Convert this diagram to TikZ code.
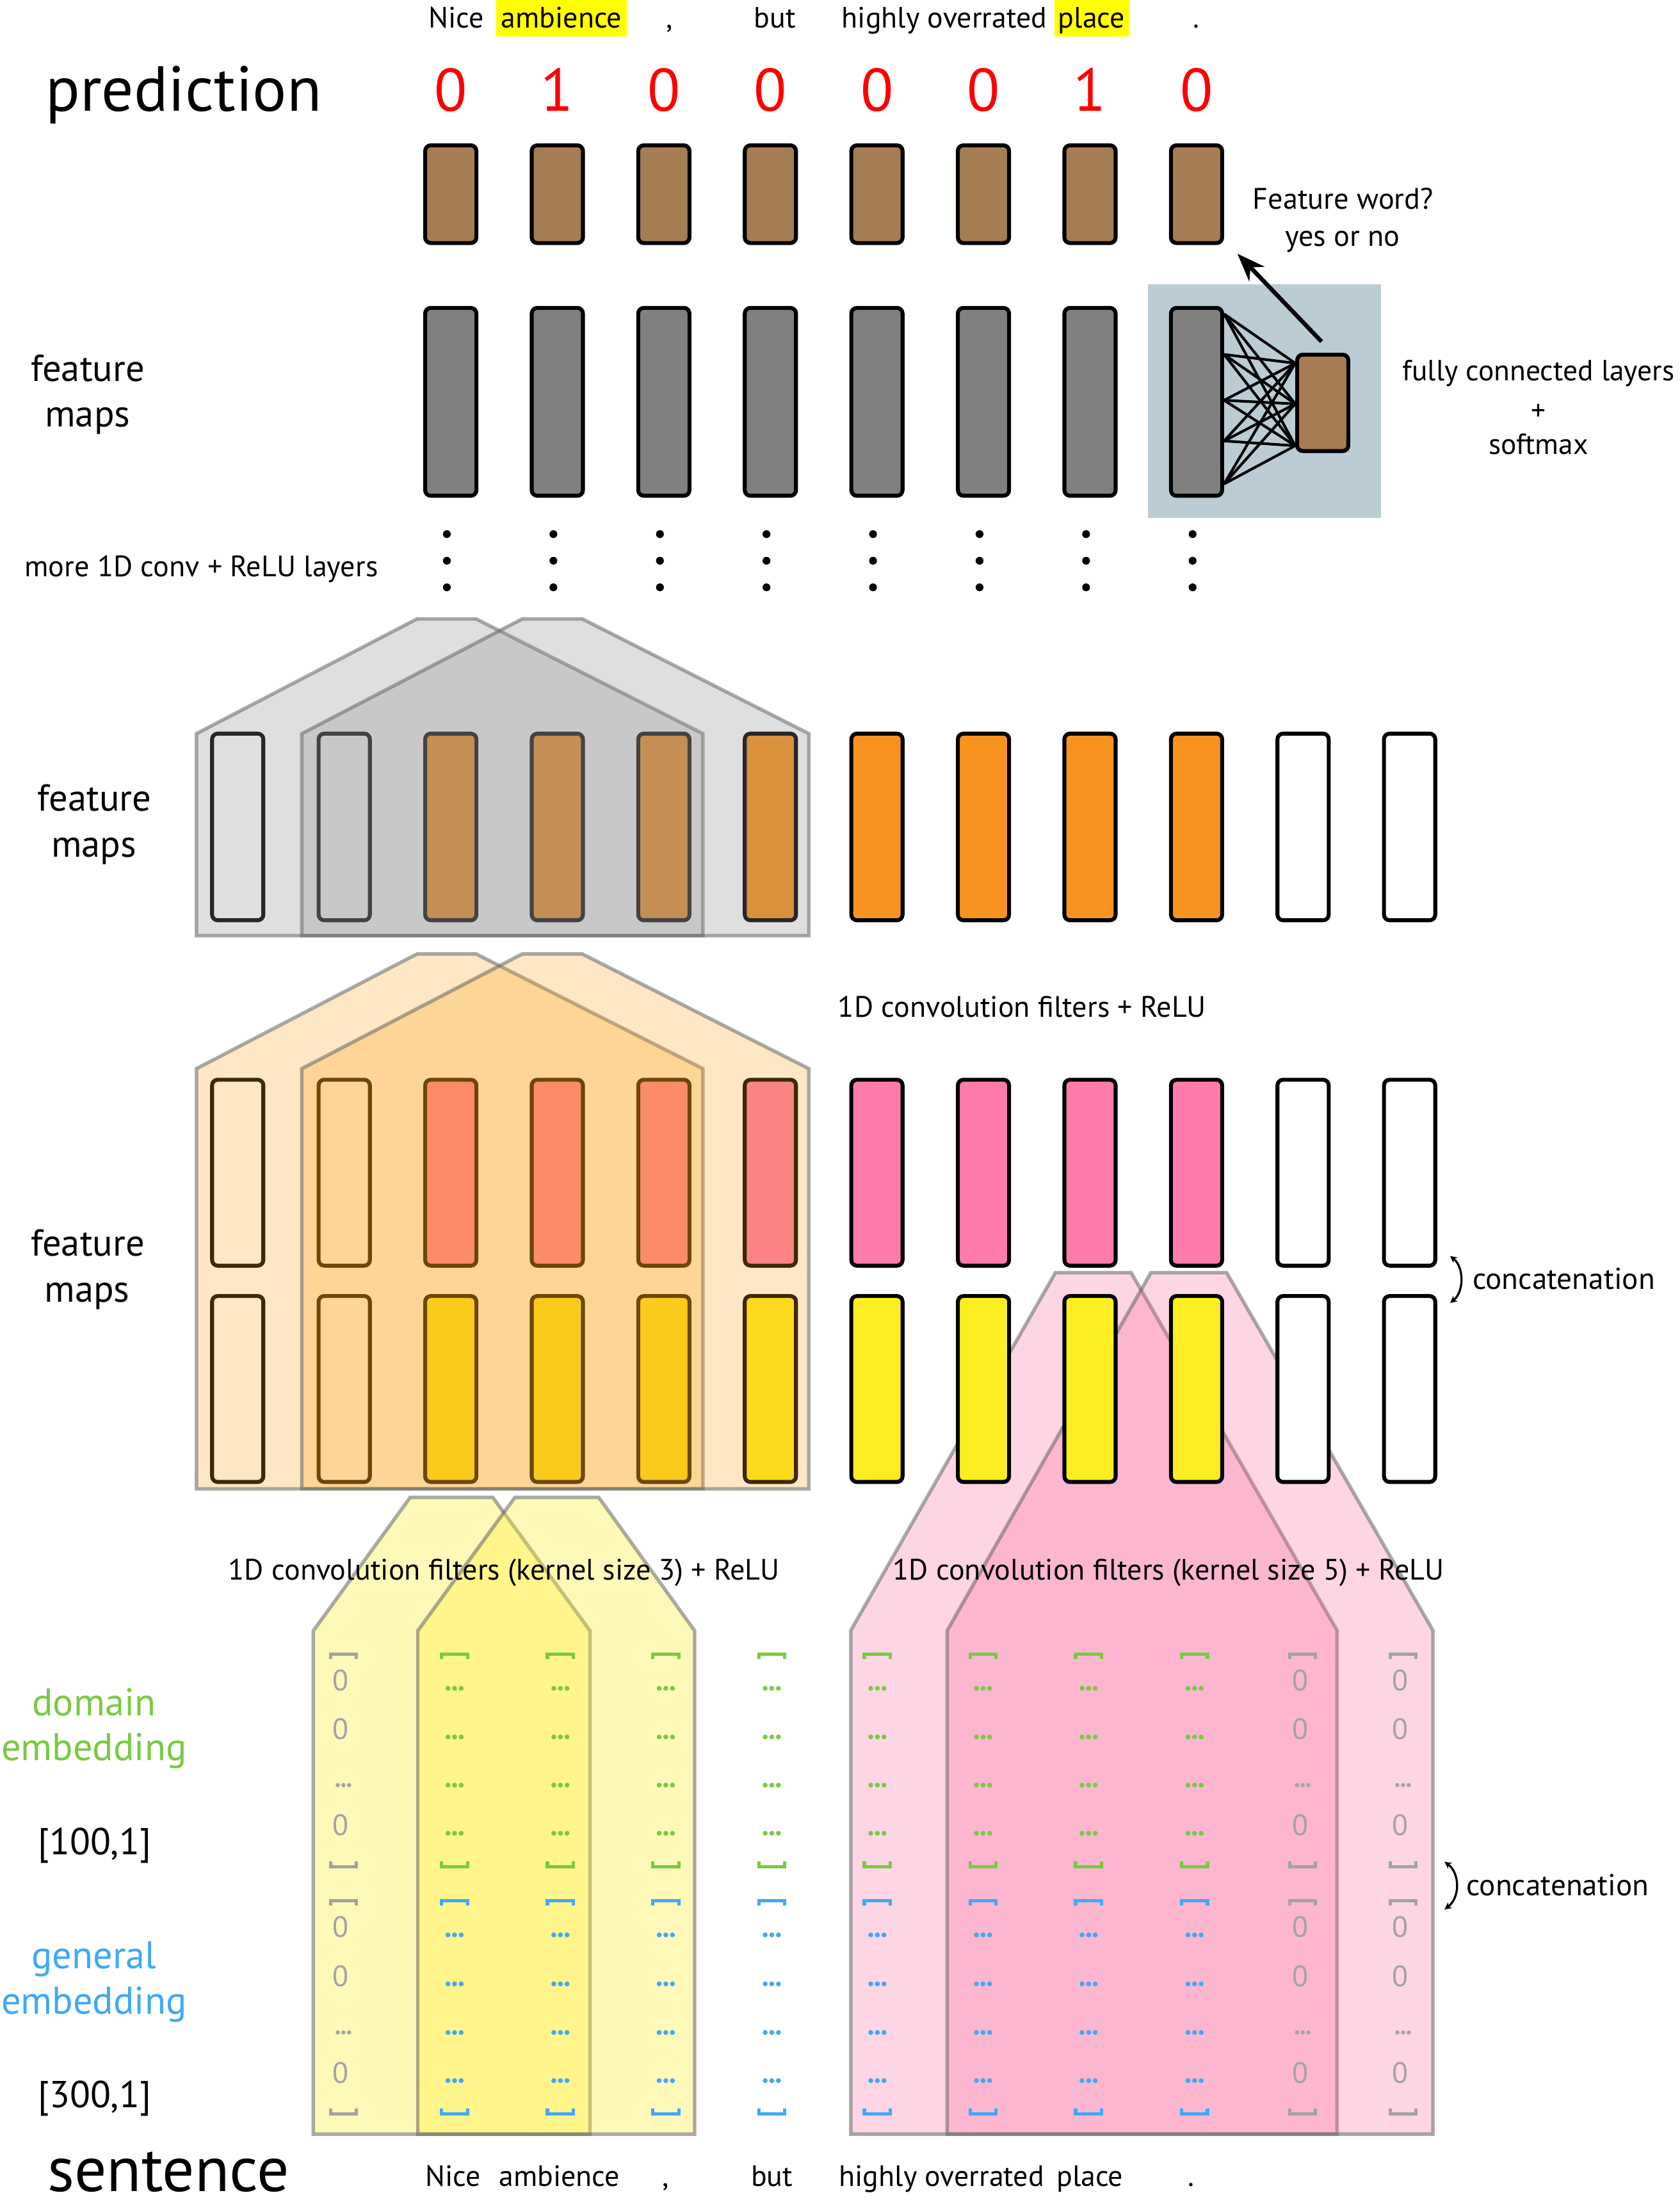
\documentclass[tikz,border=0pt]{standalone}
\usepackage{fontspec}
\setmainfont{PT Sans}
\usetikzlibrary{arrows.meta,calc}
\definecolor{brownbox}{HTML}{A67C52}
\definecolor{graybox}{HTML}{808080}
\definecolor{fcbgc}{HTML}{BCCCD4}
\definecolor{orangebox}{HTML}{F7931E}
\definecolor{pinkbox}{HTML}{FF7BAC}
\definecolor{yellowbox}{HTML}{FCEE21}
\definecolor{hl}{HTML}{FFFF00}
\definecolor{digred}{HTML}{FF0000}
\definecolor{embgreen}{HTML}{7AC943}
\definecolor{embblue}{HTML}{3FA9F5}
\definecolor{zerogray}{HTML}{A3A3A3}
\definecolor{polygray}{RGB}{141,141,141}
\definecolor{polyorange}{RGB}{250,160,20}
\definecolor{polyyellow}{RGB}{255,237,43}
\definecolor{polypink}{RGB}{250,90,150}
\definecolor{polyline}{RGB}{102,102,102}
\newcommand\fsz[2]{\fontsize{#1pt}{#2pt}\selectfont}
\newcommand\brtop[3]{\draw[brk,#3] ({#1-9.25},{#2+3.7}) -- ({#1-9.25},#2) -- ({#1+9.25},#2) -- ({#1+9.25},{#2+3.7});}
\newcommand\brbot[3]{\draw[brk,#3] ({#1-9.25},{#2-3.7}) -- ({#1-9.25},#2) -- ({#1+9.25},#2) -- ({#1+9.25},{#2-3.7});}
\newcommand\tdots[4]{\fill[#3] ({#1-#4*2.7},#2) circle[radius=#4] (#1,#2) circle[radius=#4] ({#1+#4*2.7},#2) circle[radius=#4];}
\begin{document}
\begin{tikzpicture}[x=1pt,y=-1pt,
  fmbox/.style={draw=black, line width=2.8pt, rounded corners=4pt, minimum width=36.6pt, inner sep=0pt},
  poly/.style={line width=2.5pt, draw=polyline, draw opacity=0.55, line join=miter},
  brk/.style={line width=2.4pt, line cap=butt, line join=miter},
  fcline/.style={line width=1.9pt, draw=black},
  tword/.style={anchor=base, inner sep=0pt, font=\fsz{21}{25}},
  lbl/.style={anchor=base west, inner sep=0pt, font=\fsz{21.1}{25}},
  fmlbl/.style={anchor=base, inner sep=0pt, font=\fsz{26.8}{32}},
  emlbl/.style={anchor=base, inner sep=0pt, font=\fsz{27.6}{33}},
  biglbl/.style={anchor=base, inner sep=0pt, font=\fsz{45.5}{54}},
  digit/.style={anchor=base, inner sep=0pt, font=\fsz{43}{50}, text=digred},
  zero/.style={anchor=base, inner sep=0pt, text=zerogray, font=\fsz{21}{25}},
  concat/.style={line width=1.5pt, {Stealth[length=5pt,width=5pt]}-{Stealth[length=5pt,width=5pt]}}
]
\path[use as bounding box, fill=white] (0,0) rectangle (1200,1577.8);

% ---------- top sentence ----------
\node[fill=hl, minimum width=93.3pt, minimum height=25.9pt, inner sep=0pt] (hla) at (400.95,12.95) {};
\node[fill=hl, minimum width=53.5pt, minimum height=25.9pt, inner sep=0pt] (hlb) at (779.75,12.95) {};
\node[tword] (tw1) at (326,19.8) {Nice};
\node[tword] (tw2) at (401,19.8) {ambience};
\node[tword] (tw3) at (478,19.8) {,};
\node[tword] (tw4) at (553.6,19.8) {but};
\node[tword] (tw5) at (674.5,19.8) {highly overrated};
\node[tword] (tw6) at (779.7,19.8) {place};
\node[tword] (tw7) at (854.7,19.8) {.};

% ---------- prediction ----------
\node[biglbl] (predlbl) at (131.2,79.3) {prediction};
\foreach \d [count=\k from 0] in {0,1,0,0,0,0,1,0}
  \node[digit] (dg\k) at ({322+76.1*\k},79.3) {\d};

% ---------- fully connected background ----------
\node[fill=fcbgc, minimum width=166.5pt, minimum height=167.1pt, inner sep=0pt] (fcbg) at (903.25,286.65) {};

% ---------- brown and gray rows ----------
\foreach \i in {0,...,7} {
  \node[fmbox, fill=brownbox, minimum height=69.8pt] (b\i) at ({322+76.1*\i},138.7) {};
  \node[fmbox, fill=graybox, minimum height=134.2pt] (g\i) at ({322+76.1*\i},287) {};
}
\node[fmbox, fill=brownbox, minimum width=36.5pt, minimum height=68.9pt] (fcb) at (944.85,287.75) {};
\foreach \a in {0.042,0.253,0.492,0.704,0.928}
  \foreach \b in {0.105,0.51,0.927}
    \draw[fcline] ($(g7.north east)!\a!(g7.south east)$) -- ($(fcb.north west)!\b!(fcb.south west)$);
\coordinate (arrS) at (944,244);
\coordinate (arrE) at (883.9,181.2);
\draw[line width=3pt, -{Stealth[length=20pt,width=15pt]}] (arrS) -- (arrE);
\node[tword, font=\fsz{21.2}{25}] (fw1) at (959.3,149.5) {Feature word?};
\node[tword, font=\fsz{21.2}{25}] (fw2) at (959,175.9) {yes or no};
\node[tword, font=\fsz{20.8}{25}] (fc1) at (1099,271.7) {fully connected layers};
\node[inner sep=0pt, font=\fsz{20.8}{25}] (fc2) at (1099,294.6) {+};
\node[tword, font=\fsz{20.8}{25}] (fc3) at (1099,324.5) {softmax};

% ---------- labels left ----------
\node[fmlbl] (fmA1) at (62.7,272.2) {feature};
\node[fmlbl] (fmA2) at (62.6,304.8) {maps};
\node[fmlbl] (fmB1) at (67.4,579.3) {feature};
\node[fmlbl] (fmB2) at (67.1,612) {maps};
\node[fmlbl] (fmC1) at (62.7,896.9) {feature};
\node[fmlbl] (fmC2) at (62.2,929.9) {maps};
\node[lbl] (more) at (17.4,412) {more 1D conv + ReLU layers};

% ---------- vertical dots ----------
\foreach \i in {0,...,7}
  \foreach \yy in {381.5,400.5,419.5}
    \fill ({322+76.1*\i-2.8},\yy) circle[radius=2.8];

% ---------- orange feature maps ----------
\foreach \j in {0,1,10,11}
  \node[fmbox, fill=white, minimum height=133.3pt] (o\j) at ({322+76.1*(\j-2)},590.65) {};
\foreach \j in {2,...,9}
  \node[fmbox, fill=orangebox, minimum height=133.3pt] (o\j) at ({322+76.1*(\j-2)},590.65) {};
\path[poly, fill=polygray, fill opacity=0.28] (140.3,668.3) -- (140.3,524) -- (297.8,442.1) -- (340.2,442.1) -- (502.1,524) -- (502.1,668.3) -- cycle;
\path[poly, fill=polygray, fill opacity=0.28] (215.6,668.3) -- (215.6,524) -- (373,442.1) -- (416,442.1) -- (577.8,524) -- (577.8,668.3) -- cycle;

\node[lbl] (conv1) at (598.4,726.5) {1D convolution filters + ReLU};

% ---------- pink row ----------
\foreach \j in {0,1,10,11}
  \node[fmbox, fill=white, minimum height=132.8pt] (p\j) at ({322+76.1*(\j-2)},837.6) {};
\foreach \j in {2,...,9}
  \node[fmbox, fill=pinkbox, minimum height=132.8pt] (p\j) at ({322+76.1*(\j-2)},837.6) {};

% ---------- pink polygons (kernel 5) ----------
\path[poly, fill=polypink, fill opacity=0.25] (607.7,1524.3) -- (607.7,1164.6) -- (753.9,909) -- (808,909) -- (955.1,1164.6) -- (955.1,1524.3) -- cycle;
\path[poly, fill=polypink, fill opacity=0.25] (676.6,1524.3) -- (676.6,1164.6) -- (822.1,909) -- (876.2,909) -- (1023.6,1164.6) -- (1023.6,1524.3) -- cycle;

% ---------- yellow row ----------
\foreach \j in {0,1,10,11}
  \node[fmbox, fill=white, minimum height=132.8pt] (y\j) at ({322+76.1*(\j-2)},992.1) {};
\foreach \j in {2,...,9}
  \node[fmbox, fill=yellowbox, minimum height=132.8pt] (y\j) at ({322+76.1*(\j-2)},992.1) {};

% ---------- orange polygons ----------
\path[poly, fill=polyorange, fill opacity=0.25] (140.3,1063.4) -- (140.3,763.3) -- (297.8,681.4) -- (340.2,681.4) -- (502.1,763.3) -- (502.1,1063.4) -- cycle;
\path[poly, fill=polyorange, fill opacity=0.25] (215.6,1063.4) -- (215.6,763.3) -- (373,681.4) -- (416,681.4) -- (577.8,763.3) -- (577.8,1063.4) -- cycle;

% concatenation (top)
\coordinate (ca1) at (1035.8,897.1);
\coordinate (ca2) at (1035.8,930.6);
\draw[concat] (ca1) .. controls (1045.9,905) and (1045.9,922.7) .. (ca2);
\node[lbl, font=\fsz{21.6}{25}] (cat1) at (1051.8,921) {concatenation};

% ---------- yellow polygons (kernel 3) ----------
\path[poly, fill=polyyellow, fill opacity=0.33] (223.8,1524.3) -- (223.8,1164.8) -- (293,1069.5) -- (352,1069.5) -- (421.5,1164.8) -- (421.5,1524.3) -- cycle;
\path[poly, fill=polyyellow, fill opacity=0.33] (298.4,1524.3) -- (298.4,1164.8) -- (367.8,1069.5) -- (427.7,1069.5) -- (496.2,1164.8) -- (496.2,1524.3) -- cycle;

\node[lbl] (conv3) at (163,1128.6) {1D convolution filters (kernel size 3) + ReLU};
\node[lbl] (conv5) at (637.7,1128.6) {1D convolution filters (kernel size 5) + ReLU};

% ---------- embeddings ----------
\foreach \xx in {324.7,400.3,475.6,551.3,626.7,702.2,777.6,853.3} {
  \brtop{\xx}{1181.4}{embgreen}
  \brbot{\xx}{1333.3}{embgreen}
  \brtop{\xx}{1357.5}{embblue}
  \brbot{\xx}{1509.8}{embblue}
  \foreach \yy in {1205.9,1240.6,1275.0,1309.4} {\tdots{\xx}{\yy}{embgreen}{1.75}}
  \foreach \yy in {1382.0,1417.0,1451.7,1486.1} {\tdots{\xx}{\yy}{embblue}{1.75}}
}
\foreach \xx/\n in {245.3/a,930.5/b,1002.2/c} {
  \brtop{\xx}{1181.4}{zerogray}
  \brbot{\xx}{1333.3}{zerogray}
  \brtop{\xx}{1357.5}{zerogray}
  \brbot{\xx}{1509.8}{zerogray}
  \foreach \yy/\r in {1207.5/p,1242.3/q,1311.1/s,1383.7/t,1418.7/u,1487.8/w}
    \node[zero] (z\n\r) at ({\xx-1.8},\yy) {0};
  \tdots{\xx}{1275.0}{zerogray}{1.5}
  \tdots{\xx}{1451.7}{zerogray}{1.5}
}

% concatenation (bottom)
\coordinate (cb1) at (1031.8,1329.7);
\coordinate (cb2) at (1031.8,1363.8);
\draw[concat] (cb1) .. controls (1043,1338) and (1043,1355.5) .. (cb2);
\node[lbl, font=\fsz{21.6}{25}] (cat2) at (1047.3,1353.8) {concatenation};

% ---------- embedding labels ----------
\node[emlbl, text=embgreen] (dom1) at (67.1,1225.4) {domain};
\node[emlbl, text=embgreen] (dom2) at (67.1,1257.5) {embedding};
\node[fmlbl] (dim1) at (67.5,1324.6) {[100,1]};
\node[emlbl, text=embblue] (gen1) at (67.1,1406.2) {general};
\node[emlbl, text=embblue] (gen2) at (67.1,1438.3) {embedding};
\node[fmlbl] (dim2) at (67.5,1505.4) {[300,1]};

% ---------- bottom sentence ----------
\node[biglbl] (sentlbl) at (120.3,1565.2) {sentence};
\node[tword] (bw1) at (323.7,1561.4) {Nice};
\node[tword] (bw2) at (399.5,1561.4) {ambience};
\node[tword] (bw3) at (475.3,1561.4) {,};
\node[tword] (bw4) at (551.4,1561.4) {but};
\node[tword] (bw5) at (672.6,1561.4) {highly overrated};
\node[tword] (bw6) at (778.5,1561.4) {place};
\node[tword] (bw7) at (851,1561.4) {.};
\end{tikzpicture}
\end{document}
